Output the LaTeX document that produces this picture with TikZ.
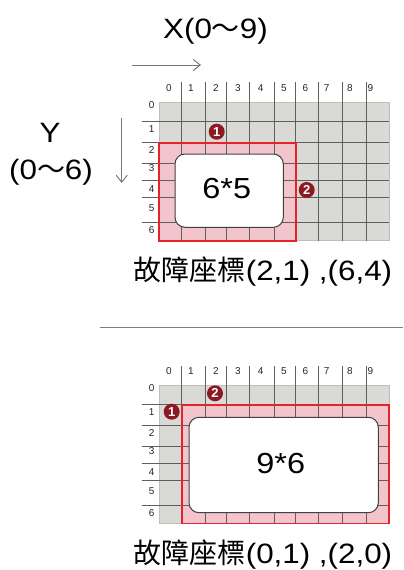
\documentclass[tikz,border=0pt]{standalone}
\usepackage{fontspec}
\setmainfont{Liberation Sans}
\newfontfamily\cjk{Noto Sans CJK TC}
\newfontfamily\wide{Liberation Sans}[FakeStretch=1.12]
\usetikzlibrary{arrows.meta}
\definecolor{gridgrey}{RGB}{217,218,214}
\definecolor{gridedge}{RGB}{190,190,188}
\definecolor{pinkfill}{RGB}{242,196,204}
\definecolor{redline}{RGB}{228,36,44}
\definecolor{gridline}{RGB}{95,95,95}
\definecolor{badgered}{RGB}{140,26,34}
\definecolor{arrowgrey}{RGB}{120,120,120}
\tikzset{
  gridln/.style={draw=gridline, line width=0.9pt},
  redbox/.style={draw=redline, line width=1.6pt},
  whitebox/.style={draw=black!75, fill=white, line width=1pt, rounded corners=10pt},
  badge/.style={circle, fill=badgered, text=white, inner sep=0pt, minimum size=16pt, font=\fontsize{13}{13}\selectfont\bfseries},
  lbl/.style={inner sep=0pt, font=\fontsize{10}{10}\selectfont, text=black!85},
  big/.style={inner sep=0pt, font=\fontsize{28}{30}\selectfont\wide},
  captext/.style={inner sep=0pt, font=\fontsize{28}{30}\selectfont\wide},
  arr/.style={draw=arrowgrey, line width=1pt, -{Straight Barb[length=7pt,width=11pt]}},
}
\newcommand\mygrid[5]{%
  \fill[gridgrey, draw=gridedge] (0,0) rectangle (230,138.5);
  \fill[pinkfill] (#1,#2) rectangle (#3,#4);
  \foreach \x in {22.7,46,67.7,90.3,115,136.7,159.7,183.3,207}
    \draw[gridln] (\x,-19.5) -- (\x,139);
  \foreach \y in {19.7,40.5,61.7,78.5,95.5,120.4}
    \draw[gridln] (-17.3,\y) -- (230,\y);
  \draw[redbox] (#1,#2) rectangle (#3,#4);
  \foreach \c/\x in {0/10,1/32,2/57,3/79,4/101.7,5/125,6/146.5,7/167.7,8/191,9/211.5}
    \node[lbl] (#5c\c) at (\x,-13.7) {\c};
  \foreach \r/\y in {0/3.5,1/27,2/48,3/66.5,4/87,5/106.5,6/128}
    \node[lbl] (#5r\r) at (-7.3,\y) {\r};
}
\begin{document}
\begin{tikzpicture}[x=1pt,y=-1pt]
\useasboundingbox (0,0) rectangle (404,570);
% titles
\node[big] (xt) at (215.5,31) {X(0{\cjk ～}9)};
\coordinate (xa) at (132,65);
\coordinate (xb) at (201,65);
\draw[arr] (xa) -- (xb);
\node[big] (yt) at (50,133) {Y};
\node[big] (yr) at (51,172) {(0{\cjk ～}6)};
\coordinate (ya) at (121.7,118);
\coordinate (yb) at (121.7,183);
\draw[arr] (ya) -- (yb);
% top grid
\begin{scope}[shift={(159,101.7)}]
  \mygrid{0}{41}{136.7}{139}{t}
  \draw[whitebox] (16,52.3) rectangle (124.3,125.6);
  \node[inner sep=0pt, font=\fontsize{29}{30}\selectfont\wide] (t65) at (67.7,86.6) {6*5};
  \node[badge] (tb1) at (57.7,30) {1};
  \node[badge] (tb2) at (147.7,88.3) {2};
\end{scope}
\node[captext] (tcap) at (263,272) {{\cjk 故障座標}(2,1) ,(6,4)};
% separator
\coordinate (sa) at (100,327.3);
\coordinate (sb) at (403,327.3);
\draw[draw=gray, line width=1.5pt] (sa) -- (sb);
% bottom grid
\begin{scope}[shift={(159,385)}]
  \mygrid{22.7}{19.7}{230}{138.5}{b}
  \draw[whitebox] (30,32.3) rectangle (219.3,127.7);
  \node[inner sep=0pt, font=\fontsize{29}{30}\selectfont\wide] (b96) at (121.7,79) {9*6};
  \node[badge] (bb1) at (12.7,26.7) {1};
  \node[badge] (bb2) at (56,8.3) {2};
\end{scope}
\node[captext] (bcap) at (263,555) {{\cjk 故障座標}(0,1) ,(2,0)};
\end{tikzpicture}
\end{document}
